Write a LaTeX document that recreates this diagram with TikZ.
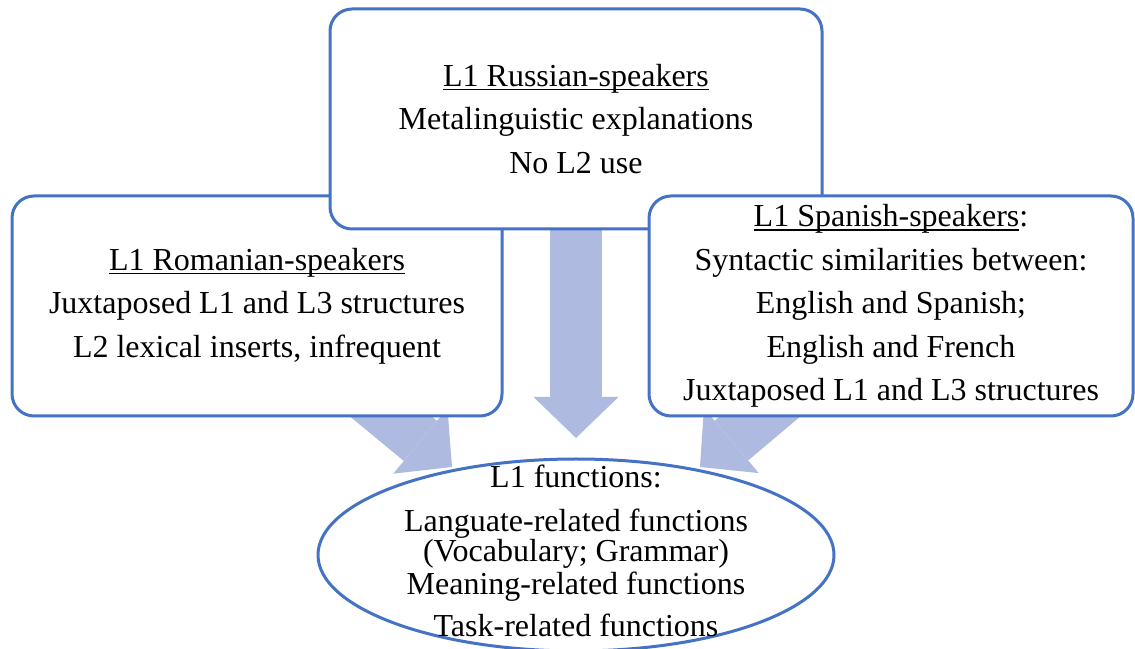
\documentclass[tikz,border=0pt]{standalone}
\usepackage{fontspec}
\setmainfont{Liberation Serif}
\usetikzlibrary{shapes.geometric,arrows.meta}
\definecolor{boxblue}{HTML}{4472C4}
\definecolor{arrowblue}{HTML}{AEBADF}
\pgfdeclarelayer{background}
\pgfsetlayers{background,main}
\newcommand\grouptitle[1]{\setbox0\hbox{#1}\rlap{\rule[-2pt]{\wd0}{0.7pt}}\box0}

\begin{document}
\begin{tikzpicture}[x=0.5pt,y=0.5pt,
    group/.style={draw=boxblue,line width=1.5pt,fill=white,rounded corners=11pt,
      minimum height=110pt,align=center,font=\fontsize{16}{21.75}\selectfont},
    converge/.style={draw=arrowblue,line width=26pt,
      -{Triangle[width=42.5pt,length=20.5pt,line width=0pt,fill=arrowblue]}}]
  \useasboundingbox (0,0) rectangle (1135,648);
  \node[group,minimum width=245pt] (romanian) at (257,342)
    {\grouptitle{L1 Romanian-speakers}\\Juxtaposed L1 and L3 structures\\L2 lexical inserts, infrequent};
  \node[group,minimum width=246pt] (russian) at (576,529)
    {\grouptitle{L1 Russian-speakers}\\Metalinguistic explanations\\No L2 use};
  \node[group,minimum width=242pt] (spanish) at (891,342)
    {\grouptitle{L1 Spanish-speakers}:\\Syntactic similarities between:\\English and Spanish;\\English and French\\Juxtaposed L1 and L3 structures};
  \node[draw=boxblue,line width=1.5pt,fill=white,ellipse,minimum width=258pt,
    minimum height=96pt] (functions) at (576,93) {};
  \node[align=center,font=\fontsize{16}{15}\selectfont] (functionstext) at (576,97)
    {L1 functions:\\[7pt]Languate-related functions\\(Vocabulary; Grammar)\\[1.5pt]Meaning-related functions\\[6pt]Task-related functions};
  \coordinate (tipleft) at (452,181);
  \coordinate (tipmid) at (576,210);
  \coordinate (tipright) at (700,181);
  \begin{pgfonlayer}{background}
    \draw[converge] (romanian.center) -- (tipleft);
    \draw[converge] (russian.center) -- (tipmid);
    \draw[converge] (spanish.center) -- (tipright);
  \end{pgfonlayer}
\end{tikzpicture}
\end{document}
